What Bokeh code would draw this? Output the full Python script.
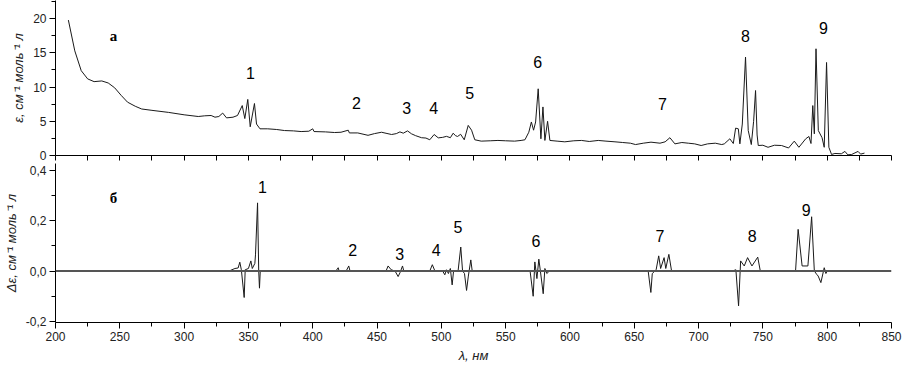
from bokeh.plotting import figure
from bokeh.layouts import column
from bokeh.models import Span, CustomJSTickFormatter, FixedTicker, Range1d, ColumnDataSource
from bokeh.core.properties import value
from bokeh.embed import file_html
from bokeh.resources import INLINE

# ---- panel а: absorption spectrum ----
wl_a = [210, 215, 220, 225, 230, 236, 241, 246, 251, 256, 262, 267, 275, 288, 300, 311, 316, 321,
        324, 327, 330, 333, 338, 341.5, 345.2, 347.2, 349.5, 351.4, 354.7, 356.3, 359, 365, 372,
        378, 385, 391, 397, 400, 401, 410, 417, 422, 427.6, 428.5, 435, 443, 448, 453.5, 457,
        461.3, 465, 467.8, 470.4, 473.7, 476.8, 480, 484.6, 488, 491, 494.4, 497.6, 501, 504, 507,
        509.2, 511, 512.6, 515, 517.8, 520.9, 523.5, 526, 531, 538, 544, 550, 557, 562, 565, 568,
        570, 571.7, 573.3, 575.3, 577.4, 579, 580.5, 582.6, 584.4, 590, 596, 603, 609, 615, 622,
        628, 635, 641, 647, 651, 657, 663, 670, 674, 677.7, 681.6, 687, 692, 697, 702, 707, 713,
        718, 720, 724.3, 727, 728.8, 730.9, 732.1, 734, 736.5, 738.6, 741, 742.8, 744.3, 745.5,
        746.4, 750, 754, 759, 764.5, 770, 774.4, 778, 783.3, 785.8, 787.4, 788.8, 790, 791.3,
        793.1, 796, 797.7, 799.5, 801.3, 803.4, 806, 811, 813.8, 816, 819, 824, 826, 829]
eps_a = [19.8, 15.3, 12.4, 11.2, 10.8, 10.9, 10.6, 9.9, 8.8, 7.8, 7.2, 6.8, 6.6, 6.3, 5.95, 5.7, 5.8, 5.85,
         5.6, 5.7, 6.2, 5.5, 5.6, 5.85, 7.3, 5.4, 8.2, 4.2, 7.6, 4.6, 3.9, 3.9, 3.8,
         3.65, 3.6, 3.5, 3.55, 3.9, 3.5, 3.45, 3.36, 3.4, 3.7, 3.3, 3.3, 2.95, 3.2, 3.4, 3.25,
         3.07, 3.2, 3.45, 3.26, 3.6, 3.17, 2.9, 2.6, 2.55, 2.3, 3.07, 2.58, 2.65, 2.8, 2.6,
         3.26, 2.9, 2.78, 3.1, 2.3, 4.4, 3.7, 2.3, 2.1, 2.15, 2.2, 2.15, 2.1, 2.2, 2.3, 3.4,
         4.9, 3.7, 4.9, 9.75, 2.44, 7.1, 2.2, 5.0, 2.2, 2.1, 2.0, 2.15, 2.2, 2.05, 2.2,
         2.1, 2.0, 1.9, 1.8, 1.6, 1.8, 1.95, 1.8, 2.0, 2.6, 1.7, 1.9, 1.8, 1.7, 1.46, 1.7, 1.8,
         1.6, 1.7, 2.44, 1.75, 4.0, 3.9, 1.7, 4.6, 14.4, 3.65, 1.6, 5.0, 9.5, 3.0,
         1.46, 1.5, 1.2, 1.5, 1.46, 1.1, 2.1, 1.2, 2.44, 2.78, 1.75, 7.3, 3.17, 15.6,
         3.65, 2.6, 1.2, 13.6, 1.2, 0.15, 0.3, 0.25, 0.6, 0.1, 0.15, 0.6, 0.2, 0.35]

# ---- panel б: difference spectrum ----
wl_b = [335, 339.5, 342, 343.3, 344.5, 346.7, 347.5, 350, 351.9, 353, 355, 355.5, 357.1, 358, 358.6, 359.2,
        418, 419.8, 420.5, 426, 428, 429,
        457, 458.6, 461, 464, 466.4, 468, 469.8, 470.8,
        491, 493, 495, 501, 502.7, 504, 505.5, 507, 508.4, 509.5, 513, 515.1, 516.5, 518, 519.6, 521, 522.9, 524,
        569, 571.4, 572.7, 574.3, 575.8, 577, 579.2, 580.5, 582, 584,
        660.8, 662.9, 664, 667, 669, 670.5, 673.2, 674.5, 676.9, 679,
        726.4, 729, 731.1, 732.7, 735.5, 738.1, 741.5, 746, 748,
        775.4, 777.4, 780.5, 785, 787.9, 790, 791.8, 793, 795.1, 797.7, 799, 800]
deps_b = [0, 0.01, 0.012, 0.035, 0.005, -0.105, 0.005, 0.01, 0.04, 0.01, 0.03, 0.064, 0.27, 0, -0.068, 0,
          0, 0.013, 0, 0, 0.02, 0,
          0, 0.02, 0.005, 0, -0.022, -0.005, 0.02, 0,
          0, 0.025, 0, 0, -0.015, 0.005, -0.01, 0.01, -0.055, 0, 0, 0.095, 0, -0.01, -0.077, -0.02, 0.044, 0,
          0, -0.1, 0.036, -0.03, 0.047, 0, -0.09, 0.01, -0.01, 0,
          0, -0.085, -0.01, 0.005, 0.06, 0.01, 0.053, 0.01, 0.066, 0,
          0, 0.005, -0.138, 0.04, 0.02, 0.053, 0.02, 0.055, 0,
          0, 0.165, 0.02, 0.02, 0.215, 0, -0.013, -0.02, -0.046, 0.013, -0.01, 0]

peak_ids = ["1", "2", "3", "4", "5", "6", "7", "8", "9"]
peak_a_x = [351.6, 434, 473, 494, 522, 575, 672, 736.5, 797]
peak_a_y = [12.1, 7.7, 7.0, 6.9, 9.2, 13.6, 7.5, 17.5, 18.6]
peak_b_x = [361, 431, 467.6, 496, 513, 573.6, 670, 741.6, 783.6]
peak_b_y = [0.331, 0.083, 0.067, 0.083, 0.174, 0.118, 0.138, 0.138, 0.24]

panel_tags = ["а", "б"]
tag_a_xy = (245, 17.5)
tag_b_xy = (245, 0.288)

x_ticks = [200, 250, 300, 350, 400, 450, 500, 550, 600, 650, 700, 750, 800, 850]
y_ticks_a = [0, 5, 10, 15, 20]
y_ticks_b = [-0.2, 0.0, 0.2, 0.4]

FONT = "Liberation Sans"
LEFT = 54
FW = 836


def style(p):
    p.outline_line_color = None
    p.xgrid.visible = False
    p.ygrid.visible = False
    for ax in (p.xaxis[0], p.yaxis[0]):
        ax.axis_line_color = "black"
        ax.major_tick_line_color = "black"
        ax.minor_tick_line_color = "black"
        ax.major_tick_in = 0
        ax.major_tick_out = 6
        ax.minor_tick_in = 0
        ax.minor_tick_out = 4
        ax.major_label_text_font = FONT
        ax.major_label_text_font_size = "12px"
        ax.major_label_text_color = "#222222"
        ax.axis_label_text_font = FONT
        ax.axis_label_text_font_size = "13px"
        ax.axis_label_text_font_style = "italic"
        ax.axis_label_text_color = "#222222"
        ax.major_label_standoff = 3
        ax.axis_label_standoff = 4


x_minor = [t + 25 for t in x_ticks[:-1]]

# top panel
p1 = figure(frame_width=FW, frame_height=155, x_range=Range1d(200, 850), y_range=Range1d(0, 22.66),
            output_backend="svg", toolbar_location=None,
            min_border_left=LEFT, min_border_right=12, min_border_top=0, min_border_bottom=8)
p1.line(wl_a, eps_a, line_color="#1a1a1a", line_width=1)
src_a = ColumnDataSource(dict(x=peak_a_x, y=peak_a_y, t=peak_ids))
p1.text(x="x", y="y", text="t", source=src_a, text_font=value(FONT), text_font_size="16px",
        text_align="center", text_baseline="middle", text_color="black")
p1.text(x=[tag_a_xy[0]], y=[tag_a_xy[1]], text=[panel_tags[0]], text_font=value("Liberation Serif"),
        text_font_size="15px", text_font_style="bold", text_align="center", text_baseline="middle",
        text_color="black")
style(p1)
p1.xaxis.ticker = FixedTicker(ticks=x_ticks, minor_ticks=x_minor)
p1.xaxis.formatter = CustomJSTickFormatter(code="return '';")
p1.xaxis.major_label_standoff = 0
p1.xaxis.major_tick_out = 5
p1.xaxis.minor_tick_out = 5
p1.yaxis.ticker = FixedTicker(ticks=y_ticks_a, minor_ticks=[t + 2.5 for t in y_ticks_a])
p1.yaxis.axis_label = "ε, см⁻¹ моль⁻¹ л"

# bottom panel
p2 = figure(frame_width=FW, frame_height=159, x_range=p1.x_range, y_range=Range1d(-0.204, 0.426),
            output_backend="svg", toolbar_location=None,
            min_border_left=LEFT, min_border_right=12, min_border_top=0, min_border_bottom=2)
p2.add_layout(Span(location=0, dimension="width", line_color="#555555", line_width=2))
p2.line(wl_b, deps_b, line_color="#1a1a1a", line_width=1)
src_b = ColumnDataSource(dict(x=peak_b_x, y=peak_b_y, t=peak_ids))
p2.text(x="x", y="y", text="t", source=src_b, text_font=value(FONT), text_font_size="16px",
        text_align="center", text_baseline="middle", text_color="black")
p2.text(x=[tag_b_xy[0]], y=[tag_b_xy[1]], text=[panel_tags[1]], text_font=value("Liberation Serif"),
        text_font_size="15px", text_font_style="bold", text_align="center", text_baseline="middle",
        text_color="black")
style(p2)
p2.xaxis.ticker = FixedTicker(ticks=x_ticks, minor_ticks=x_minor)
p2.xaxis.axis_label = "λ, нм"
p2.yaxis.ticker = FixedTicker(ticks=y_ticks_b, minor_ticks=[-0.1, 0.1, 0.3])
p2.yaxis.formatter = CustomJSTickFormatter(code="return tick.toFixed(1).replace('.', ',');")
p2.yaxis.axis_label = "Δε, см⁻¹ моль⁻¹ л"

layout = column(p1, p2, spacing=0)
open("out.html", "w").write(file_html(layout, INLINE))
